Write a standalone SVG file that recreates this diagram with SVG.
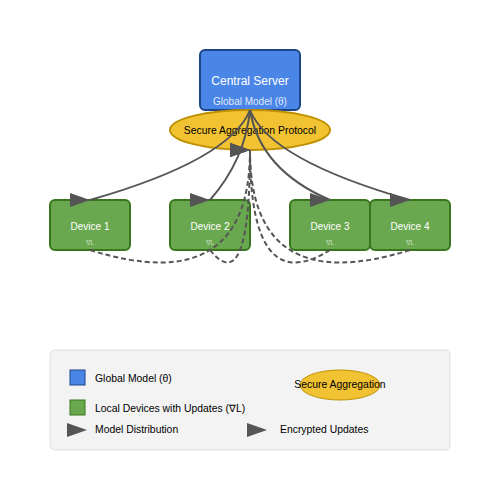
<svg xmlns="http://www.w3.org/2000/svg" width="500" height="500" viewBox="0 0 500 500">
<style>
text{font-family:"Liberation Sans",Arial,sans-serif}
.dev rect{fill:#6aa84f;stroke:#38761d;stroke-width:2}
.dev .t{fill:#fff;font-size:10px;text-anchor:middle}
.dev .g{fill:#fff;fill-opacity:0.6;font-size:7px;text-anchor:middle}
.sol{fill:none;stroke:#555;stroke-width:2;marker-end:url(#arr)}
.dash{fill:none;stroke:#555;stroke-width:2;stroke-dasharray:5,3;marker-end:url(#arr)}
.lg{font-size:10.4px;fill:#000}
</style>
<defs>
<marker id="arr" markerWidth="10" markerHeight="7" refX="10" refY="3.5" viewBox="0 0 10 7" markerUnits="strokeWidth">
<path d="M0,0 L10,3.5 L0,7 z" fill="#555"/>
</marker>
</defs>
<rect width="500" height="500" fill="#fff"/>
<g id="server">
<rect x="200" y="50" width="100" height="60" rx="5" fill="#4a86e8" stroke="#1c4587" stroke-width="2"/>
<text x="250" y="85" font-size="12" fill="#fff" text-anchor="middle">Central Server</text>
<text x="250" y="105" font-size="10" fill="#fff" fill-opacity="0.85" text-anchor="middle">Global Model (θ)</text>
</g>
<g id="aggregation">
<ellipse cx="250" cy="130" rx="80" ry="20" fill="#f1c232" stroke="#bf9000" stroke-width="2"/>
<text x="250" y="134" font-size="10.4" fill="#000" text-anchor="middle">Secure Aggregation Protocol</text>
</g>
<g id="device1" class="dev"><rect x="50" y="200" width="80" height="50" rx="5"/><text class="t" x="90" y="230">Device 1</text><text class="g" x="90" y="245">∇L</text></g>
<g id="device2" class="dev"><rect x="170" y="200" width="80" height="50" rx="5"/><text class="t" x="210" y="230">Device 2</text><text class="g" x="210" y="245">∇L</text></g>
<g id="device3" class="dev"><rect x="290" y="200" width="80" height="50" rx="5"/><text class="t" x="330" y="230">Device 3</text><text class="g" x="330" y="245">∇L</text></g>
<g id="device4" class="dev"><rect x="370" y="200" width="80" height="50" rx="5"/><text class="t" x="410" y="230">Device 4</text><text class="g" x="410" y="245">∇L</text></g>
<g id="connectors">
<path class="sol" d="M250,110 Q230,160 90,200"/>
<path class="sol" d="M250,110 Q245,160 210,200"/>
<path class="sol" d="M250,110 Q260,170 330,200"/>
<path class="sol" d="M250,110 Q270,160 410,200"/>
<path class="dash" d="M90,250 Q250,300 250,150"/>
<path class="dash" d="M210,250 Q250,300 250,150"/>
<path class="dash" d="M330,250 Q250,300 250,150"/>
<path class="dash" d="M410,250 Q250,300 250,150"/>
</g>
<g id="legend">
<rect x="50" y="350" width="400" height="100" rx="5" fill="#f3f3f3" stroke="#ddd" stroke-width="1"/>
<rect x="70" y="370" width="15" height="15" fill="#4a86e8" stroke="#1c4587" stroke-width="1"/>
<text class="lg" x="95" y="382">Global Model (θ)</text>
<rect x="70" y="400" width="15" height="15" fill="#6aa84f" stroke="#38761d" stroke-width="1"/>
<text class="lg" x="95" y="412">Local Devices with Updates (∇L)</text>
<path d="M67,423 L87,430 L67,437 z" fill="#555"/>
<text class="lg" x="95" y="433">Model Distribution</text>
<ellipse cx="340" cy="385" rx="40" ry="15" fill="#f1c232" stroke="#bf9000" stroke-width="1"/>
<text class="lg" x="340" y="388" text-anchor="middle">Secure Aggregation</text>
<path d="M247,423 L267,430 L247,437 z" fill="#555"/>
<text class="lg" x="280" y="433">Encrypted Updates</text>
</g>
</svg>
